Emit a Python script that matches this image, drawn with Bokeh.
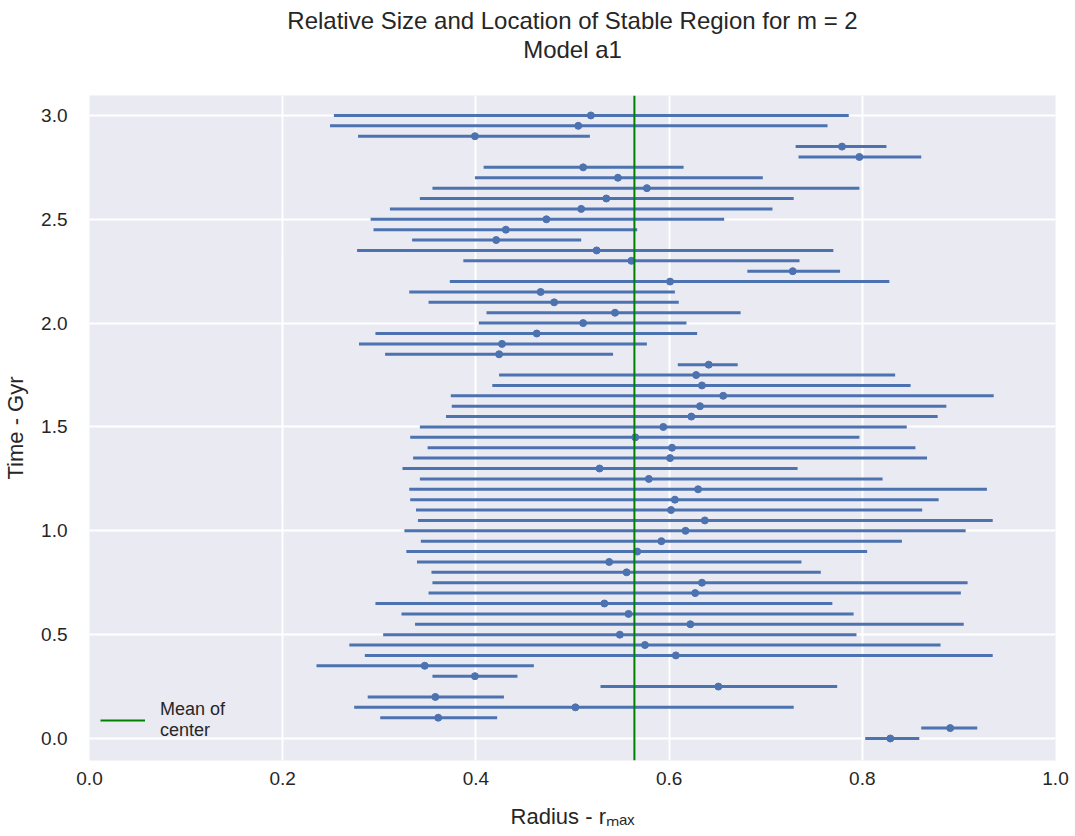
from bokeh.plotting import figure
from bokeh.models import (Range1d, FixedTicker, PrintfTickFormatter, Title, Legend, LegendItem)
from bokeh.embed import file_html
from bokeh.resources import INLINE
import numpy as np

# time in Gyr (bottom to top)
time_gyr = [0.00, 0.05, 0.10, 0.15, 0.20, 0.25, 0.30, 0.35, 0.40, 0.45,
            0.50, 0.55, 0.60, 0.65, 0.70, 0.75, 0.80, 0.85, 0.90, 0.95,
            1.00, 1.05, 1.10, 1.15, 1.20, 1.25, 1.30, 1.35, 1.40, 1.45,
            1.50, 1.55, 1.60, 1.65, 1.70, 1.75, 1.80, 1.85, 1.90, 1.95,
            2.00, 2.05, 2.10, 2.15, 2.20, 2.25, 2.30, 2.35, 2.40, 2.45,
            2.50, 2.55, 2.60, 2.65, 2.70, 2.75, 2.80, 2.85, 2.90, 2.95, 3.00]

region_left = [0.803, 0.861, 0.301, 0.274, 0.288, 0.529, 0.355, 0.235, 0.285, 0.269,
               0.304, 0.337, 0.323, 0.296, 0.351, 0.355, 0.354, 0.339, 0.328, 0.343,
               0.326, 0.340, 0.338, 0.332, 0.331, 0.342, 0.324, 0.335, 0.350, 0.332,
               0.342, 0.369, 0.375, 0.374, 0.417, 0.424, 0.609, 0.306, 0.279, 0.296,
               0.403, 0.411, 0.351, 0.331, 0.373, 0.681, 0.387, 0.277, 0.334, 0.294,
               0.291, 0.311, 0.342, 0.355, 0.399, 0.408, 0.734, 0.731, 0.278, 0.249, 0.253]

region_center = [0.829, 0.891, 0.361, 0.503, 0.358, 0.651, 0.399, 0.347, 0.607, 0.575,
                 0.549, 0.622, 0.558, 0.533, 0.627, 0.634, 0.556, 0.538, 0.567, 0.592,
                 0.617, 0.637, 0.602, 0.606, 0.630, 0.579, 0.528, 0.601, 0.603, 0.565,
                 0.594, 0.623, 0.632, 0.656, 0.634, 0.628, 0.641, 0.424, 0.427, 0.463,
                 0.511, 0.544, 0.481, 0.467, 0.601, 0.728, 0.561, 0.525, 0.421, 0.431,
                 0.473, 0.509, 0.535, 0.577, 0.547, 0.511, 0.797, 0.779, 0.399, 0.506, 0.519]

region_right = [0.859, 0.919, 0.422, 0.729, 0.429, 0.774, 0.443, 0.460, 0.935, 0.881,
                0.794, 0.905, 0.791, 0.769, 0.902, 0.909, 0.757, 0.737, 0.805, 0.841,
                0.907, 0.935, 0.862, 0.879, 0.929, 0.821, 0.733, 0.867, 0.855, 0.797,
                0.846, 0.878, 0.887, 0.936, 0.850, 0.834, 0.671, 0.542, 0.577, 0.629,
                0.618, 0.674, 0.610, 0.606, 0.828, 0.777, 0.735, 0.770, 0.509, 0.567,
                0.657, 0.707, 0.729, 0.797, 0.697, 0.615, 0.861, 0.825, 0.518, 0.764, 0.786]

x_ticks = [0.0, 0.2, 0.4, 0.6, 0.8, 1.0]
y_ticks = [0.0, 0.5, 1.0, 1.5, 2.0, 2.5, 3.0]

mean_center = float(np.mean(region_center))

FONT = "Liberation Sans"
TXT = "#262626"
BLUE = "#4C72B0"

y_range = Range1d(-0.106, 3.096)
p = figure(width=1075, height=836, output_backend="svg", toolbar_location=None,
           x_range=Range1d(0, 1), y_range=y_range,
           min_border_left=88, min_border_right=20, min_border_top=95,
           min_border_bottom=76)

p.background_fill_color = "#EAEAF2"
p.border_fill_color = "white"
p.outline_line_color = None

# outermost title line
p.title.text = "Relative Size and Location of Stable Region for m = 2"
p.title.align = "center"
p.title.text_font = FONT
p.title.text_font_size = "24px"
p.title.text_font_style = "normal"
p.title.text_color = TXT
p.title.standoff = 0

# spacer between the subtitle and the plot area (closest to the frame)
p.add_layout(Title(text=" ", align="center", text_font=FONT, text_font_size="24px",
                   standoff=4), "above")
# second title line
p.add_layout(Title(text="Model a1", align="center", text_font=FONT,
                   text_font_size="24px", text_font_style="normal",
                   text_color=TXT, standoff=0), "above")

for ax in (p.xaxis, p.yaxis):
    ax.axis_line_color = None
    ax.major_tick_line_color = None
    ax.minor_tick_line_color = None
    ax.major_label_text_font = FONT
    ax.major_label_text_font_size = "19px"
    ax.major_label_text_color = TXT
    ax.axis_label_text_font = FONT
    ax.axis_label_text_font_size = "22px"
    ax.axis_label_text_font_style = "normal"
    ax.axis_label_text_color = TXT

p.xaxis.ticker = FixedTicker(ticks=x_ticks)
p.yaxis.ticker = FixedTicker(ticks=y_ticks)
p.xaxis.formatter = PrintfTickFormatter(format="%.1f")
p.yaxis.formatter = PrintfTickFormatter(format="%.1f")
p.xaxis.major_label_standoff = 5
p.yaxis.major_label_standoff = 16

p.yaxis.axis_label = "Time - Gyr"
p.yaxis.axis_label_standoff = 10
p.xaxis.axis_label = "Radius - r\u2098\u2090\u2093"
p.xaxis.axis_label_standoff = 16

p.xgrid.grid_line_color = "white"
p.ygrid.grid_line_color = "white"
p.xgrid.grid_line_width = 2
p.ygrid.grid_line_width = 2

p.segment(x0=region_left, y0=time_gyr, x1=region_right, y1=time_gyr,
          line_color=BLUE, line_width=3)
p.scatter(x=region_center, y=time_gyr, size=7, fill_color=BLUE, line_color=BLUE)

mean_line = p.line(x=[mean_center, mean_center], y=[y_range.start, y_range.end],
                   line_color="#008000", line_width=2)

legend = Legend(items=[LegendItem(label="Mean of\ncenter", renderers=[mean_line])],
                location=(11, 18), background_fill_alpha=0, border_line_color=None,
                label_text_font=FONT, label_text_font_size="18px", label_text_color=TXT,
                glyph_width=45, glyph_height=44, label_standoff=15, padding=4, margin=0)
p.add_layout(legend)

open("out.html", "w").write(file_html(p, INLINE))
